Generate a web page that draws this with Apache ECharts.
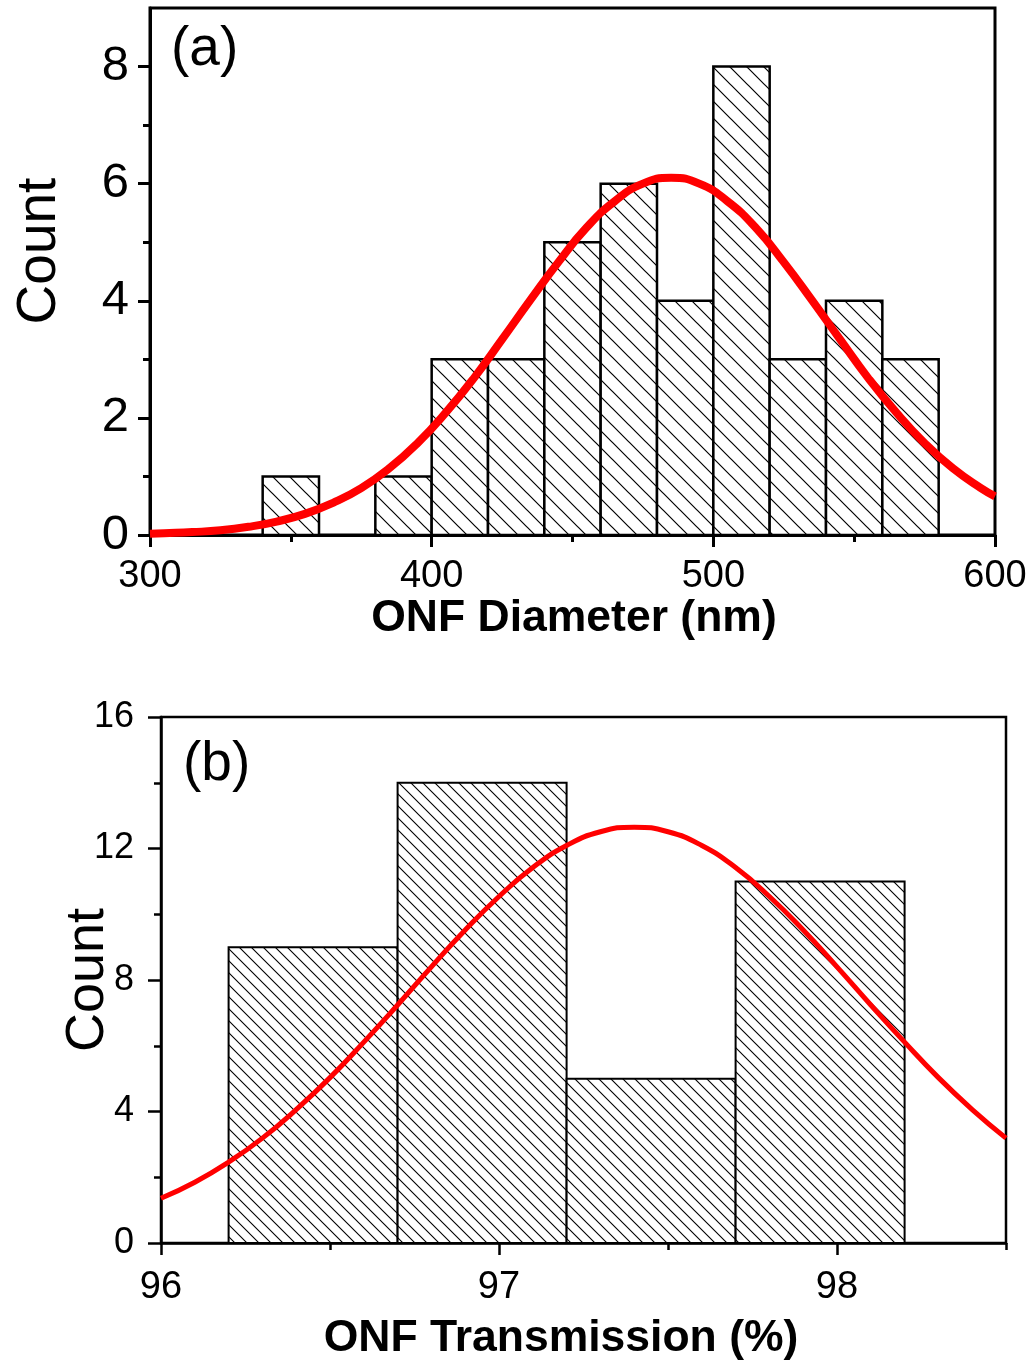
<!DOCTYPE html>
<html><head><meta charset="utf-8">
<script src="https://cdn.jsdelivr.net/npm/echarts@6/dist/echarts.min.js"></script>
<style>html,body{margin:0;padding:0;background:#fff}#c{width:1033px;height:1366px}</style>
</head><body><div id="c"></div>
<script>
// ---- Panel (a): ONF diameter histogram ----
const diameterBinStart = [340, 380, 400, 420, 440, 460, 480, 500, 520, 540, 560];
const diameterBinWidth = 20;
const diameterCounts = [1, 1, 3, 3, 5, 6, 4, 8, 3, 4, 3];
const diameterFitX = [300,305,315,325,335,345,355,365,375,385,395,405,415,425,435,445,455,465,475,485,495,505,515,525,535,545,555,565,575,585,595,600];
const diameterFitY = [0.02,0.03,0.05,0.08,0.14,0.23,0.36,0.55,0.80,1.14,1.57,2.09,2.68,3.34,4.01,4.66,5.25,5.70,6.00,6.10,6.00,5.70,5.25,4.66,4.01,3.34,2.68,2.09,1.57,1.14,0.80,0.66];
const diameterXTicks = [300, 400, 500, 600];
const diameterXMinor = [350, 450, 550];
const diameterYTicks = [0, 2, 4, 6, 8];
const diameterYMinor = [1, 3, 5, 7];

// ---- Panel (b): ONF transmission histogram ----
const transBinStart = [96.2, 96.7, 97.2, 97.7];
const transBinWidth = 0.5;
const transCounts = [9, 14, 5, 11];
const transFitX = [96.0,96.1,96.2,96.3,96.4,96.5,96.6,96.7,96.8,96.9,97.0,97.1,97.2,97.3,97.4,97.5,97.6,97.7,97.8,97.9,98.0,98.1,98.2,98.3,98.4,98.5];
const transFitY = [1.36,1.85,2.46,3.19,4.06,5.03,6.11,7.24,8.40,9.52,10.54,11.42,12.09,12.51,12.65,12.51,12.09,11.42,10.54,9.52,8.40,7.24,6.11,5.03,4.06,3.19];
const transXTicks = [96, 97, 98];
const transXMinor = [96.5, 97.5, 98.5];
const transYTicks = [0, 4, 8, 12, 16];
const transYMinor = [2, 6, 10, 14];

const FONT = '"Liberation Sans", Arial, sans-serif';

function makeHatch(s, lw) {
  const c = document.createElement('canvas');
  c.width = s; c.height = s;
  const g = c.getContext('2d');
  g.fillStyle = '#fff'; g.fillRect(0, 0, s, s);
  g.strokeStyle = '#000'; g.lineWidth = lw;
  g.beginPath();
  for (let k = -1; k <= 1; k++) {
    g.moveTo(-1, k * s - 1);
    g.lineTo(s + 1, s + k * s + 1);
  }
  g.stroke();
  return { image: c, repeat: 'repeat' };
}
const hatchA = makeHatch(17, 1.2);
const hatchB = makeHatch(12, 1.1);

function binData(starts, w, counts) {
  return starts.map((s, i) => [s, s + w, counts[i]]);
}
function histRender(pattern, lw) {
  return function (params, api) {
    const p0 = api.coord([api.value(0), api.value(2)]);
    const p1 = api.coord([api.value(1), 0]);
    return {
      type: 'rect',
      shape: { x: p0[0], y: p0[1], width: p1[0] - p0[0], height: p1[1] - p0[1] },
      style: { fill: pattern, stroke: '#000', lineWidth: lw }
    };
  };
}

function majorAxis(gridIndex, min, max, ticks, lw, fontSize, margin, pos, tickLen) {
  return {
    gridIndex, type: 'value', min, max, position: pos,
    axisLine: { show: true, onZero: false, lineStyle: { color: '#000', width: lw } },
    axisTick: { show: true, customValues: ticks, length: tickLen, lineStyle: { color: '#000', width: lw } },
    axisLabel: { show: true, customValues: ticks, fontSize, color: '#000', fontFamily: FONT, margin },
    splitLine: { show: false }
  };
}
function minorAxis(gridIndex, min, max, ticks, lw, pos) {
  return {
    gridIndex, type: 'value', min, max, position: pos,
    axisLine: { show: false, onZero: false },
    axisTick: { show: true, customValues: ticks, length: 7, lineStyle: { color: '#000', width: lw } },
    axisLabel: { show: false },
    splitLine: { show: false }
  };
}

const chart = echarts.init(document.getElementById('c'), null, { renderer: 'canvas' });
chart.setOption({
  animation: false,
  backgroundColor: '#fff',
  grid: [
    { left: 150, top: 8, width: 845, height: 527, show: true, borderColor: '#000', borderWidth: 3, backgroundColor: 'transparent' },
    { left: 161, top: 717, width: 845, height: 526, show: true, borderColor: '#000', borderWidth: 2.5, backgroundColor: 'transparent' }
  ],
  xAxis: [
    majorAxis(0, 300, 600, diameterXTicks, 3, 38, 23, 'bottom', 12),
    minorAxis(0, 300, 600, diameterXMinor, 3, 'bottom'),
    majorAxis(1, 96, 98.5, transXTicks, 2.5, 38, 26, 'bottom', 12),
    minorAxis(1, 96, 98.5, transXMinor, 2.5, 'bottom')
  ],
  yAxis: [
    majorAxis(0, 0, 9, diameterYTicks, 3, 49, 21, 'left', 12),
    minorAxis(0, 0, 9, diameterYMinor, 3, 'left'),
    majorAxis(1, 0, 16, transYTicks, 2.5, 36, 27, 'left', 13),
    minorAxis(1, 0, 16, transYMinor, 2.5, 'left')
  ],
  series: [
    {
      type: 'custom', xAxisIndex: 0, yAxisIndex: 0,
      renderItem: histRender(hatchA, 2.5),
      encode: { x: [0, 1], y: 2 },
      data: binData(diameterBinStart, diameterBinWidth, diameterCounts), z: 2
    },
    {
      type: 'line', xAxisIndex: 0, yAxisIndex: 0, smooth: true, symbol: 'none',
      lineStyle: { color: '#ff0000', width: 8 },
      data: diameterFitX.map((x, i) => [x, diameterFitY[i]]), z: 3
    },
    {
      type: 'custom', xAxisIndex: 2, yAxisIndex: 2,
      renderItem: histRender(hatchB, 2),
      encode: { x: [0, 1], y: 2 },
      data: binData(transBinStart, transBinWidth, transCounts), z: 2
    },
    {
      type: 'line', xAxisIndex: 2, yAxisIndex: 2, smooth: true, symbol: 'none',
      lineStyle: { color: '#ff0000', width: 5 },
      data: transFitX.map((x, i) => [x, transFitY[i]]), z: 3
    }
  ],
  graphic: [
    { type: 'text', left: 171, top: 22, style: { text: '(a)', fontSize: 55, fontFamily: FONT, fill: '#000' } },
    { type: 'text', left: 183, top: 737, style: { text: '(b)', fontSize: 55, fontFamily: FONT, fill: '#000' } },
    { type: 'text', x: 40, y: 251, rotation: Math.PI / 2, style: { text: 'Count', fontSize: 55, fontFamily: FONT, fill: '#000', align: 'center', verticalAlign: 'middle' } },
    { type: 'text', x: 88, y: 980, rotation: Math.PI / 2, style: { text: 'Count', fontSize: 54, fontFamily: FONT, fill: '#000', align: 'center', verticalAlign: 'middle' } },
    { type: 'text', x: 574, y: 619, style: { text: 'ONF Diameter (nm)', fontSize: 44.5, fontWeight: 'bold', fontFamily: FONT, fill: '#000', align: 'center', verticalAlign: 'middle' } },
    { type: 'text', x: 561, y: 1339, style: { text: 'ONF Transmission (%)', fontSize: 44.5, fontWeight: 'bold', fontFamily: FONT, fill: '#000', align: 'center', verticalAlign: 'middle' } }
  ]
});
</script>
</body></html>
